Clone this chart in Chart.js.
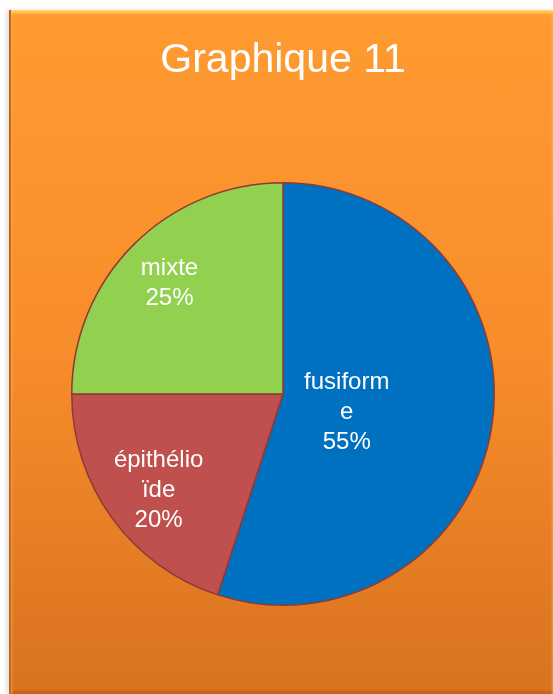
<!DOCTYPE html>
<html>
<head>
<meta charset="utf-8">
<title>Graphique 11</title>
<script src="https://cdn.jsdelivr.net/npm/chart.js@4/dist/chart.umd.min.js"></script>
<style>
    body {
        margin: 0;
        background: #fff;
        width: 553px;
        height: 694px;
        overflow: hidden;
        position: relative;
    }
    /* orange panel behind the chart */
    #panel {
        position: absolute;
        left: 9px;
        top: 10px;
        width: 544px;
        height: 684px;
        background: linear-gradient(to bottom, #ff9b31 0%, #f78d2b 50%, #d97220 100%);
        border-left: 2px solid #c9661b;
        box-sizing: border-box;
        box-shadow: -3px 0 4px rgba(0, 0, 0, 0.12),
                    inset 0 3px 3px #ffd467,
                    inset 0 -3px 2px rgba(150, 70, 10, 0.35);
    }
    #chart {
        position: absolute;
        left: 0;
        top: 0;
    }
</style>
</head>
<body>
<div id="panel"></div>
<canvas id="chart" width="553" height="694"></canvas>

<script>
// Tumour types and their share (%)
const categories = ['fusiforme', 'épithélioïde', 'mixte'];
const shares = [55, 20, 25];
const sliceColors = ['#0070c0', '#c0504d', '#92d050'];

const titleText = 'Graphique 11';

// where each label sits: fraction of the radius, and a small turn off the mid-angle (rad)
const labelRadius = [0.31, 0.737, 0.76];
const labelTurn = [0.073, -0.017, 0];

const fontFamily = '"Liberation Sans", Arial, sans-serif';
const labelFont = '24px ' + fontFamily;
const labelLineHeight = 30;
const labelMaxWidth = 92;

// break a word into lines no wider than maxWidth (character by character)
function wrapChars(ctx, text, maxWidth) {
    const lines = [];
    let line = '';
    for (const ch of text) {
        if (line && ctx.measureText(line + ch).width > maxWidth) {
            lines.push(line);
            line = ch;
        } else {
            line += ch;
        }
    }
    if (line) lines.push(line);
    return lines;
}

// Title centred over the pie, baseline fixed near the top of the panel
const chartTitle = {
    id: 'chartTitle',
    afterDraw(chart) {
        const ctx = chart.ctx;
        const area = chart.chartArea;
        ctx.save();
        ctx.font = '41px ' + fontFamily;
        ctx.fillStyle = '#ffffff';
        ctx.textAlign = 'center';
        ctx.textBaseline = 'alphabetic';
        ctx.fillText(titleText, (area.left + area.right) / 2, 72);
        ctx.restore();
    }
};

// Draw "name / value%" inside each slice
const sliceLabels = {
    id: 'sliceLabels',
    afterDatasetsDraw(chart) {
        const ctx = chart.ctx;
        const meta = chart.getDatasetMeta(0);
        ctx.save();
        ctx.font = labelFont;
        ctx.fillStyle = '#ffffff';
        ctx.textAlign = 'center';
        ctx.textBaseline = 'middle';
        meta.data.forEach((arc, i) => {
            const p = arc.getProps(['x', 'y', 'startAngle', 'endAngle', 'outerRadius'], true);
            const mid = (p.startAngle + p.endAngle) / 2 + labelTurn[i];
            const r = p.outerRadius * labelRadius[i];
            const cx = p.x + Math.cos(mid) * r;
            const cy = p.y + Math.sin(mid) * r + 3;
            const lines = wrapChars(ctx, categories[i], labelMaxWidth);
            lines.push(shares[i] + '%');
            const top = cy - (lines.length - 1) * labelLineHeight / 2;
            lines.forEach((txt, k) => {
                ctx.fillText(txt, cx, top + k * labelLineHeight);
            });
        });
        ctx.restore();
    }
};

const ctx = document.getElementById('chart').getContext('2d');
new Chart(ctx, {
    type: 'pie',
    data: {
        labels: categories,
        datasets: [{
            data: shares,
            backgroundColor: sliceColors,
            borderColor: '#8e3a34',
            borderWidth: 1.5
        }]
    },
    options: {
        responsive: false,
        animation: false,
        layout: {
            padding: { top: 182, left: 71, right: 58, bottom: 88 }
        },
        plugins: {
            legend: { display: false },
            tooltip: { enabled: false },
            title: { display: false }
        }
    },
    plugins: [sliceLabels, chartTitle]
});
</script>
</body>
</html>
